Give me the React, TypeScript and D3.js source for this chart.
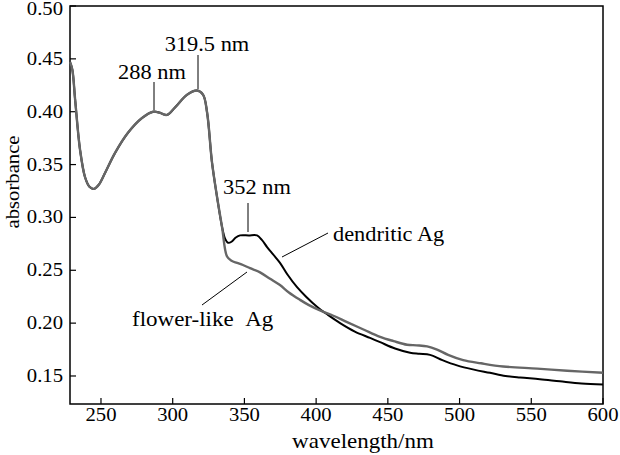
import React from "react";
import * as d3 from "d3";

const commonWl = [228.4, 230, 232, 235.4, 238.9, 242, 245.1, 248.5, 252.8, 259.8, 268.8, 278.6, 286.3, 291, 296, 301.6, 310, 317, 321.2, 324, 327.4, 330.9, 334.4];
const commonAbs = [0.447, 0.44, 0.411, 0.364, 0.338, 0.329, 0.327, 0.331, 0.342, 0.361, 0.38, 0.394, 0.4, 0.399, 0.397, 0.404, 0.416, 0.42, 0.416, 0.399, 0.352, 0.3195, 0.291];

const dendriticWl = [336.5, 338.6, 341, 344, 347, 353, 358.8, 362, 365.8, 370, 374.8, 380, 386.7, 393, 400.6, 408, 416.7, 427, 437.6, 444.6, 455, 465.5, 472, 479.4, 488, 498.2, 510, 521.2, 532, 542.2, 556, 570, 585, 600];
const dendriticAbs = [0.28, 0.276, 0.277, 0.281, 0.283, 0.283, 0.283, 0.279, 0.272, 0.265, 0.257, 0.246, 0.234, 0.225, 0.2155, 0.208, 0.2, 0.192, 0.186, 0.182, 0.176, 0.172, 0.171, 0.17, 0.165, 0.16, 0.156, 0.153, 0.15, 0.1485, 0.147, 0.145, 0.143, 0.142];

const flowerWl = [337.9, 341, 344.9, 349, 353.9, 360.9, 367.9, 374.8, 381, 388.8, 395, 402.7, 412, 421.6, 433, 444.6, 454, 463.4, 470, 477.4, 484.3, 492, 502.5, 515, 530.4, 554.1, 575, 600];
const flowerAbs = [0.263, 0.259, 0.257, 0.255, 0.252, 0.248, 0.242, 0.236, 0.229, 0.222, 0.217, 0.212, 0.207, 0.201, 0.194, 0.187, 0.183, 0.1796, 0.179, 0.178, 0.175, 0.17, 0.165, 0.162, 0.159, 0.157, 0.155, 0.153];

const xTicks = [250, 300, 350, 400, 450, 500, 550, 600];
const yTicks = [0.15, 0.2, 0.25, 0.3, 0.35, 0.4, 0.45, 0.5];

type Pt = [number, number];
const zip = (a: number[], b: number[]): Pt[] => a.map((v, i) => [v, b[i]]);
const dendritic: Pt[] = [...zip(commonWl, commonAbs), ...zip(dendriticWl, dendriticAbs)];
const flower: Pt[] = [...zip(commonWl, commonAbs), ...zip(flowerWl, flowerAbs)];

const FONT = "'Liberation Serif', 'Times New Roman', serif";

function T({ x, y, size = 20, sx = 1.12, anchor = "middle", children }: { x: number; y: number; size?: number; sx?: number; anchor?: string; children: React.ReactNode }) {
  return (
    <text
      x={x}
      y={y}
      fontSize={size}
      textAnchor={anchor}
      dominantBaseline="central"
      transform={`translate(${x},0) scale(${sx},1) translate(${-x},0)`}
      fill="#000"
    >
      {children}
    </text>
  );
}

export default function App() {
  const left = 70, right = 603, top = 6, bottom = 404;
  const x = d3.scaleLinear().domain([228.4, 600]).range([left, right]);
  const y = d3.scaleLinear().domain([0.1235, 0.5]).range([bottom, top]);
  const line = d3
    .line<Pt>()
    .x((d) => x(d[0]))
    .y((d) => y(d[1]))
    .curve(d3.curveCatmullRom.alpha(0.5));

  return (
    <svg width={620} height={455} style={{ position: "absolute", left: 0, top: 0, background: "#fff" }} fontFamily={FONT}>
      <rect x={0} y={0} width={620} height={455} fill="#fff" />
      <rect x={left} y={top} width={right - left} height={bottom - top} fill="none" stroke="#000" strokeWidth={1.5} />
      {xTicks.map((t) => (
        <g key={"x" + t}>
          <line x1={x(t)} x2={x(t)} y1={bottom} y2={bottom - 6} stroke="#000" strokeWidth={1.2} />
          <T x={x(t)} y={415} size={18} sx={1.15}>{t}</T>
        </g>
      ))}
      {yTicks.map((t) => (
        <g key={"y" + t}>
          <line x1={left} x2={left + 6} y1={y(t)} y2={y(t)} stroke="#000" strokeWidth={1.2} />
          <T x={63} y={Math.max(y(t), 9)} size={18} sx={1.15} anchor="end">{d3.format(".2f")(t)}</T>
        </g>
      ))}
      <T x={363} y={442} size={20} sx={1.15}>wavelength/nm</T>
      <text x={0} y={0} fontSize={18} textAnchor="middle" dominantBaseline="central" transform="translate(12.5,182) rotate(-90) scale(1.15,1)">
        absorbance
      </text>
      <path d={line(dendritic) || ""} fill="none" stroke="#000" strokeWidth={2} />
      <path d={line(flower) || ""} fill="none" stroke="#666" strokeWidth={2.4} />
      <line x1={154} x2={154} y1={82} y2={110} stroke="#000" strokeWidth={1} />
      <T x={152} y={72}>288 nm</T>
      <line x1={198} x2={198} y1={55} y2={89} stroke="#000" strokeWidth={1} />
      <T x={207} y={44}>319.5 nm</T>
      <line x1={248} x2={248} y1={203} y2={232} stroke="#000" strokeWidth={1} />
      <T x={257} y={187}>352 nm</T>
      <line x1={282} x2={328} y1={257} y2={233} stroke="#000" strokeWidth={1} />
      <T x={333} y={234} anchor="start">dendritic Ag</T>
      <line x1={202} x2={247} y1={305} y2={272} stroke="#000" strokeWidth={1} />
      <T x={132} y={320} anchor="start" sx={1.15}>{"flower-like\u00A0\u00A0Ag"}</T>
    </svg>
  );
}
